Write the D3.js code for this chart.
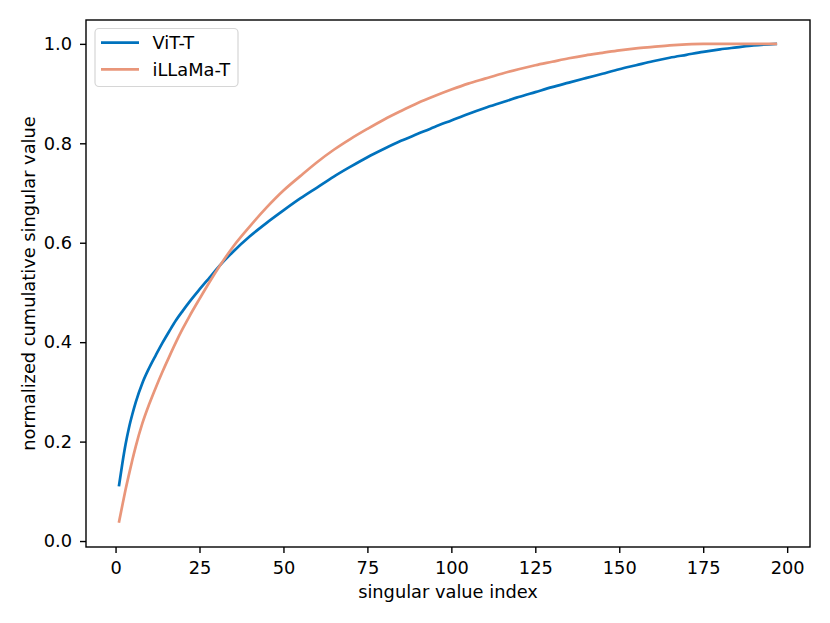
<!DOCTYPE html>
<html>
<head>
<meta charset="utf-8">
<script src="https://cdn.jsdelivr.net/npm/d3@7"></script>
<style>
  html, body { margin: 0; padding: 0; background: #fff; }
  svg { display: block; font-family: "DejaVu Sans", sans-serif; }
</style>
</head>
<body>
<div id="chart"></div>
<script>
// ---- data ----
const seriesNames = ["ViT-T", "iLLaMa-T"];
const seriesColors = ["#0072BD", "#E9967A"];

const vitIndex = [1,2,3,4,5,6,8,10,12,14,16,18,20,22,25,28,31,35,40,45,50,55,60,65,70,75,80,85,90,95,100,105,110,115,120,125,130,135,140,145,150,155,160,165,170,175,180,185,190,197];
const vitValue = [0.110,0.155,0.195,0.228,0.255,0.279,0.318,0.348,0.374,0.399,0.422,0.444,0.463,0.481,0.506,0.530,0.554,0.582,0.613,0.640,0.665,0.689,0.711,0.733,0.753,0.772,0.789,0.805,0.819,0.833,0.846,0.859,0.871,0.882,0.893,0.903,0.913,0.922,0.931,0.940,0.949,0.957,0.965,0.972,0.978,0.984,0.989,0.993,0.997,1.000];

const llamaIndex = [1,2,3,4,5,6,8,10,12,14,16,18,20,22,25,28,31,35,40,45,50,55,60,65,70,75,80,85,90,95,100,105,110,115,120,125,130,135,140,145,150,155,160,165,170,175,180,185,190,197];
const llamaValue = [0.037,0.071,0.104,0.134,0.163,0.190,0.237,0.275,0.309,0.341,0.371,0.400,0.427,0.452,0.487,0.521,0.553,0.592,0.633,0.671,0.705,0.734,0.762,0.787,0.809,0.829,0.848,0.865,0.881,0.895,0.908,0.920,0.930,0.940,0.949,0.957,0.964,0.971,0.977,0.982,0.987,0.991,0.994,0.997,0.999,1.000,1.000,1.000,1.000,1.000];

const xTicks = [0,25,50,75,100,125,150,175,200];
const yTicks = [0.0,0.2,0.4,0.6,0.8,1.0];
const xLabel = "singular value index";
const yLabel = "normalized cumulative singular value";

// ---- layout ----
const W = 830, H = 623;
const mLeft = 86, mRight = 810, mTop = 20, mBottom = 547;
const fontSize = 17.8;

const svg = d3.select("#chart").append("svg").attr("width", W).attr("height", H);
svg.append("rect").attr("width", W).attr("height", H).attr("fill", "#fff");

const x = d3.scaleLinear().domain([-8.8, 206.8]).range([mLeft, mRight]);
const y = d3.scaleLinear().domain([-0.012, 1.048]).range([mBottom, mTop]);

const series = [
  { name: seriesNames[0], color: seriesColors[0], pts: vitIndex.map((d, i) => [d, vitValue[i]]) },
  { name: seriesNames[1], color: seriesColors[1], pts: llamaIndex.map((d, i) => [d, llamaValue[i]]) }
];

const line = d3.line().x(d => x(d[0])).y(d => y(d[1])).curve(d3.curveMonotoneX);

svg.append("defs").append("clipPath").attr("id", "clip")
  .append("rect").attr("x", mLeft).attr("y", mTop).attr("width", mRight - mLeft).attr("height", mBottom - mTop);

const plot = svg.append("g").attr("clip-path", "url(#clip)");
series.forEach(s => {
  plot.append("path").datum(s.pts)
    .attr("d", line)
    .attr("fill", "none")
    .attr("stroke", s.color)
    .attr("stroke-width", 2.7)
    .attr("stroke-linecap", "butt")
    .attr("stroke-linejoin", "round");
});

// axes
const xAxis = d3.axisBottom(x).tickValues(xTicks).tickFormat(d3.format("d")).tickSize(6).tickPadding(8);
const gx = svg.append("g").attr("transform", `translate(0,${mBottom})`).call(xAxis);
const yAxis = d3.axisLeft(y).tickValues(yTicks).tickFormat(d3.format(".1f")).tickSize(6).tickPadding(8);
const gy = svg.append("g").attr("transform", `translate(${mLeft},0)`).call(yAxis);
[gx, gy].forEach(g => {
  g.select(".domain").remove();
  g.selectAll(".tick line").attr("stroke", "#000").attr("stroke-width", 1.4);
  g.selectAll(".tick text").attr("fill", "#000").style("font-size", fontSize + "px")
    .style("font-family", "'DejaVu Sans', sans-serif");
});

// frame
svg.append("rect").attr("x", mLeft).attr("y", mTop).attr("width", mRight - mLeft).attr("height", mBottom - mTop)
  .attr("fill", "none").attr("stroke", "#000").attr("stroke-width", 1.4);

// axis labels
svg.append("text").attr("x", (mLeft + mRight) / 2).attr("y", 598)
  .attr("text-anchor", "middle").style("font-size", fontSize + "px").text(xLabel);
svg.append("text").attr("transform", `translate(35,${(mTop + mBottom) / 2}) rotate(-90)`)
  .attr("text-anchor", "middle").style("font-size", fontSize + "px").text(yLabel);

// legend
const lg = svg.append("g");
lg.append("rect").attr("x", 95).attr("y", 28.5).attr("width", 143).attr("height", 58)
  .attr("rx", 4).attr("fill", "#fff").attr("fill-opacity", 0.8)
  .attr("stroke", "#d6d6d6").attr("stroke-width", 1.2);
series.forEach((s, i) => {
  const yy = 42.7 + i * 26.6;
  lg.append("line").attr("x1", 101).attr("x2", 139).attr("y1", yy).attr("y2", yy)
    .attr("stroke", s.color).attr("stroke-width", 2.7);
  lg.append("text").attr("x", 152.5).attr("y", yy).attr("dy", "0.36em")
    .style("font-size", fontSize + "px").text(s.name);
});
</script>
</body>
</html>
